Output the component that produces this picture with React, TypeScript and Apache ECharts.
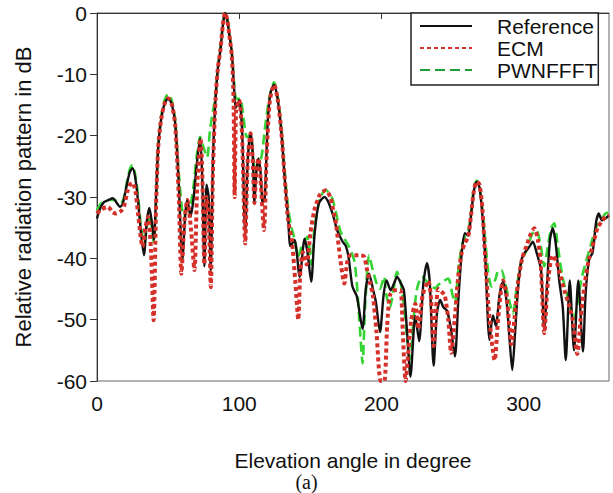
import React, { useEffect, useRef } from "react";
import * as echarts from "echarts";

// Reference (black solid)
const refAngles = [0, 2, 5, 8, 11, 14, 16, 18, 21, 23, 25, 27, 29, 31, 33, 35, 36.8, 38.5, 40, 41.5, 43, 45, 47.5, 50, 52.5, 55, 57.5, 60, 62, 63.5, 65.8, 68, 70, 72.5, 74, 75.5, 77, 78.5, 80, 81.5, 83.3, 85, 86.8, 88.5, 90, 91.5, 93, 94.8, 96.2, 97.5, 98.5, 100, 102, 104.2, 106, 108, 109.5, 110.7, 112, 113.5, 115, 116.5, 118, 120, 122, 124.5, 127, 129.7, 132, 134.5, 136, 138.9, 142.5, 146, 148, 150.6, 153, 156, 160, 163, 166, 169, 172.7, 175, 177, 179.6, 182.7, 186.7, 189, 191.3, 194, 196, 199, 201.5, 203.6, 206.5, 209, 211, 213.5, 215.8, 218, 220.4, 223.8, 226.5, 229.5, 232, 234, 236.7, 239, 241.3, 243.6, 246, 248.5, 251.7, 254, 256.5, 258.7, 261, 263, 265, 267, 269, 271, 273, 276, 278.4, 280.5, 283, 285.5, 288, 290, 292, 294, 296, 298.3, 301, 303.5, 306.4, 309, 312.2, 314.5, 316.5, 318.5, 320.4, 322.5, 325, 327.5, 329.6, 332.4, 335.4, 338.4, 341.7, 343.5, 345.9, 348.5, 351, 352.9, 355, 357.5, 360];
const refDb = [-33.5, -32, -30.8, -30.5, -30.2, -31, -31.6, -31.2, -28, -26, -25.3, -27, -31, -36, -39.5, -34, -31.8, -34, -37, -30, -22, -17.5, -14.8, -13.9, -14.8, -18, -28, -40.3, -33, -30.5, -33.2, -30, -25, -20.4, -27, -41.3, -28, -30, -42, -24, -14.2, -9, -6, -2, 0, -1, -3.5, -6.5, -11.5, -15.5, -15, -14.2, -19, -36, -24, -19.6, -23, -31, -26, -23.7, -26, -31, -30, -18, -13, -11.7, -14, -19.6, -27, -33.8, -38, -37, -43, -36.8, -39, -43.8, -36, -31, -30, -31, -33, -35.5, -37.3, -38, -40, -44.6, -46.2, -51.5, -45, -42.5, -45, -47, -52, -46, -43.6, -45.2, -44, -43, -44, -45.2, -52, -59.3, -49.4, -53.5, -44, -40.8, -44, -57.5, -49, -46.8, -48, -48.5, -51, -56, -47, -39, -35.9, -36.3, -33, -29, -27.5, -28.5, -33, -40, -53.3, -49.3, -51, -46, -43.8, -47, -53, -58.2, -52, -45, -40.3, -39, -38.3, -37.3, -39, -41.9, -51.7, -44, -37, -35.1, -37.5, -43.6, -48, -56.6, -43.6, -55, -43.6, -55.2, -46, -40.3, -39, -34, -32.7, -33.8, -33.5, -33];

// ECM (red dotted)
const ecmAngles = [0, 3, 7.7, 11, 13.5, 16.8, 19, 21.5, 23.5, 25, 27, 29, 32, 34, 36, 38, 39.8, 41.5, 43, 45, 47.5, 50, 52.5, 55, 57.5, 59.3, 61.5, 63.5, 66, 68.5, 70.5, 72.8, 74, 75.5, 77, 78.5, 80, 81.5, 83.3, 85, 86.8, 88.5, 90, 91.5, 93, 94.8, 96, 96.8, 97.8, 100, 102, 104.2, 106, 108, 109.5, 110.7, 112, 113.5, 115, 117.4, 119.5, 121.6, 124.5, 127, 129.7, 132, 134.5, 137, 139.5, 141.5, 143, 144.8, 147.4, 150, 153, 157, 161, 164, 166, 168, 171, 173.9, 176, 178, 180.9, 183, 185, 187.8, 190, 192, 194, 196.5, 199.5, 202, 204, 206, 208.8, 211, 213.4, 215, 217, 219, 221, 223.8, 226, 229, 233, 235, 236.7, 238.5, 240, 242.5, 244.5, 247, 249, 251.5, 254, 256.5, 258.7, 261, 263, 265, 267, 269, 271, 273, 276, 279.6, 282, 285.5, 288, 291.4, 293.5, 296, 299, 302, 305, 307.5, 310, 312, 314.5, 317, 320.4, 323, 326, 329, 331.6, 334.5, 337.7, 340, 343, 346, 348.5, 352, 355, 357.5, 360];
const ecmDb = [-32.7, -32, -31.6, -32.5, -32.7, -32.3, -31.5, -29, -27.9, -27.7, -29, -33, -38.1, -35, -33.2, -39, -50.1, -32, -22, -17.5, -14.8, -13.9, -14.8, -18.3, -30, -42.5, -34, -30.5, -35, -41.9, -28, -20.5, -26, -41, -30, -33, -44.7, -26, -14.2, -9, -6, -2, 0, -1, -3.5, -7, -14, -30, -16, -14.2, -20, -37.6, -24, -19.6, -24, -31, -26, -23.7, -27, -35.4, -22, -14.2, -11.7, -14, -19.6, -27, -34, -37, -44, -50, -42, -39, -41, -36, -32, -29.5, -28.9, -30, -32, -34.3, -40, -44.1, -40.5, -39.5, -39.5, -39.5, -39.5, -39.7, -42, -44, -46, -52, -60, -60, -51, -46, -45.2, -45.2, -45.2, -52, -60, -55, -50, -47.4, -51.5, -46, -43.7, -47, -54.3, -48, -45, -45.5, -46, -50, -55.4, -50, -43, -39, -37.5, -36.5, -33, -29, -27.5, -28, -32, -40, -50, -56.6, -50, -43.6, -46, -54, -50, -44, -40, -38, -36, -35.1, -37, -41, -52.2, -44, -39.5, -40.5, -43, -45.5, -47.4, -50, -55.6, -50, -44, -40, -38, -35, -34, -33.2, -33];

// PWNFFFT (green dashed)
const pwnAngles = [0, 3, 7.7, 12, 16.8, 19, 21.5, 23.5, 25, 27, 29, 31, 33.3, 35, 36.8, 38.5, 40, 41.5, 43, 45, 47.5, 50, 52.5, 55, 57.5, 61, 63.5, 66, 68, 70, 72.5, 75, 77.4, 79.5, 81.5, 83.3, 85, 86.8, 88.5, 90, 91.5, 93, 94.8, 96.5, 98, 100.7, 103, 105.3, 108, 110, 111.5, 113.5, 115.7, 118, 121, 124.5, 127, 129.7, 132, 134.5, 136.7, 139, 141.4, 144, 147.8, 150.6, 153, 157, 161, 165, 168, 171, 173.9, 177, 180.9, 183, 185, 186.7, 188.5, 191.3, 194, 196.5, 199, 201.8, 203.5, 206, 208.5, 211, 213.5, 216, 218, 220.4, 222.5, 225, 228.5, 232, 235, 237.8, 240, 243, 247, 250, 251.7, 254, 256.5, 258.7, 261, 263, 265, 267, 269, 271, 273, 275, 277.3, 280, 282, 284.3, 287, 290, 292.4, 295, 298, 302.6, 306, 309, 312, 314.5, 317, 319.5, 321.5, 324, 327.3, 330, 333, 335.4, 338, 340.5, 343.5, 347, 350, 353, 355, 357.5, 360];
const pwnDb = [-32.2, -31, -30.5, -30.5, -31, -30, -27, -25.2, -24.8, -26.5, -30, -35, -37.5, -35, -33, -35, -37.5, -31, -22, -17, -14.2, -13.2, -14.2, -17.5, -26, -33.2, -32, -31, -28, -23.5, -20.2, -22, -23.5, -19, -16, -13.5, -9, -5.5, -1.8, 0, -0.8, -3.2, -6.5, -11.5, -14, -14, -17, -20.2, -20, -24, -26, -24.5, -23.4, -19, -14, -11.3, -13.5, -19, -26, -32, -34.9, -37, -39.7, -38, -36.5, -41, -35, -30, -28.9, -30, -32.5, -35.5, -36.8, -38, -40.4, -45, -52, -57.1, -48, -39.5, -42, -44, -45, -43, -46, -48, -45, -42.2, -44, -48, -53, -56.5, -50, -45, -43, -43.8, -44.5, -44.9, -44.3, -43.8, -43.3, -46, -47.4, -42, -38, -36.4, -35.5, -32.5, -28.5, -27.3, -28.5, -32, -37, -42, -44.6, -43.5, -42, -41.9, -44, -47, -49, -45, -41, -38.3, -36, -35.4, -38, -41.3, -38, -35, -34.3, -38, -43, -45.5, -48, -50.1, -47, -43.5, -40.8, -38, -35.5, -34, -33.5, -32.7, -32.5];

const seriesNames = ["Reference", "ECM", "PWNFFFT"];
const xRange = [0, 360];
const yRange = [-60, 0];
const xLabel = "Elevation angle in degree";
const yLabel = "Relative radiation pattern in dB";
const caption = "(a)";

const pairs = (xs: number[], ys: number[]) => xs.map((x, i) => [x, ys[i]]);

const SANS = '"Liberation Sans", Arial, sans-serif';

export default function App() {
  const ref = useRef<HTMLDivElement>(null);
  useEffect(() => {
    if (!ref.current) return;
    const chart = echarts.init(ref.current, null, { renderer: "svg" });
    const hiddenSymbol = { opacity: 0, borderWidth: 0 };
    chart.setOption({
      animation: false,
      backgroundColor: "#ffffff",
      grid: {
        left: 97,
        top: 13,
        right: 4,
        bottom: 112,
        show: true,
        borderColor: "#666",
        borderWidth: 1,
      },
      xAxis: {
        type: "value",
        min: xRange[0],
        max: xRange[1],
        interval: 100,
        name: xLabel,
        nameLocation: "middle",
        nameGap: 69,
        nameTextStyle: { fontSize: 21, color: "#111", fontFamily: SANS },
        axisLine: { lineStyle: { color: "#333", width: 1 } },
        axisTick: { show: true, inside: false, length: 6, lineStyle: { color: "#333" } },
        axisLabel: { fontSize: 21, color: "#111", fontFamily: SANS, margin: 12, showMaxLabel: false },
        splitLine: { show: false },
      },
      yAxis: {
        type: "value",
        min: yRange[0],
        max: yRange[1],
        interval: 10,
        name: yLabel,
        nameLocation: "middle",
        nameGap: 63,
        nameTextStyle: { fontSize: 22, color: "#111", fontFamily: SANS },
        axisLine: { lineStyle: { color: "#333", width: 1 } },
        axisTick: { show: true, inside: false, length: 7, lineStyle: { color: "#333" } },
        axisLabel: { fontSize: 21, color: "#111", fontFamily: SANS, margin: 10 },
        splitLine: { show: false },
      },
      legend: {
        orient: "vertical",
        left: 411,
        top: 13,
        padding: [2, 1, 4, 8],
        borderColor: "#222",
        borderWidth: 1.5,
        backgroundColor: "#fff",
        itemWidth: 52,
        itemHeight: 12,
        itemGap: 0,
        itemStyle: hiddenSymbol,
        data: [
          { name: seriesNames[0], itemStyle: hiddenSymbol },
          { name: seriesNames[1], itemStyle: hiddenSymbol },
          { name: seriesNames[2], itemStyle: hiddenSymbol, lineStyle: { color: "#1f9e3a" } },
        ],
        formatter: (name: string) => `{t|${name}}`,
        textStyle: {
          fontSize: 21,
          lineHeight: 22,
          color: "#111",
          fontFamily: SANS,
          rich: {
            t: { fontSize: 21, lineHeight: 22, color: "#111", fontFamily: SANS, padding: [0, 0, 0, 20] },
          },
        },
      },
      graphic: [
        {
          type: "text",
          left: "center",
          top: 472,
          style: { text: caption, font: '20px "Liberation Serif", "Times New Roman", serif', fill: "#111" },
        },
      ],
      series: [
        {
          name: seriesNames[2],
          type: "line",
          data: pairs(pwnAngles, pwnDb),
          symbol: "none",
          smooth: 0.25,
          z: 2,
          lineStyle: { color: "#33d433", width: 2.6, type: [10, 5] },
          itemStyle: { color: "#33d433" },
        },
        {
          name: seriesNames[0],
          type: "line",
          data: pairs(refAngles, refDb),
          symbol: "none",
          smooth: 0.25,
          z: 3,
          lineStyle: { color: "#111", width: 2.4 },
          itemStyle: { color: "#111" },
        },
        {
          name: seriesNames[1],
          type: "line",
          data: pairs(ecmAngles, ecmDb),
          symbol: "none",
          smooth: 0.25,
          z: 4,
          lineStyle: { color: "#d6302a", width: 4, type: [4, 3] },
          itemStyle: { color: "#d6302a" },
        },
      ],
    });
    return () => chart.dispose();
  }, []);
  return <div ref={ref} style={{ position: "absolute", left: 0, top: 0, width: 613, height: 493 }} />;
}
